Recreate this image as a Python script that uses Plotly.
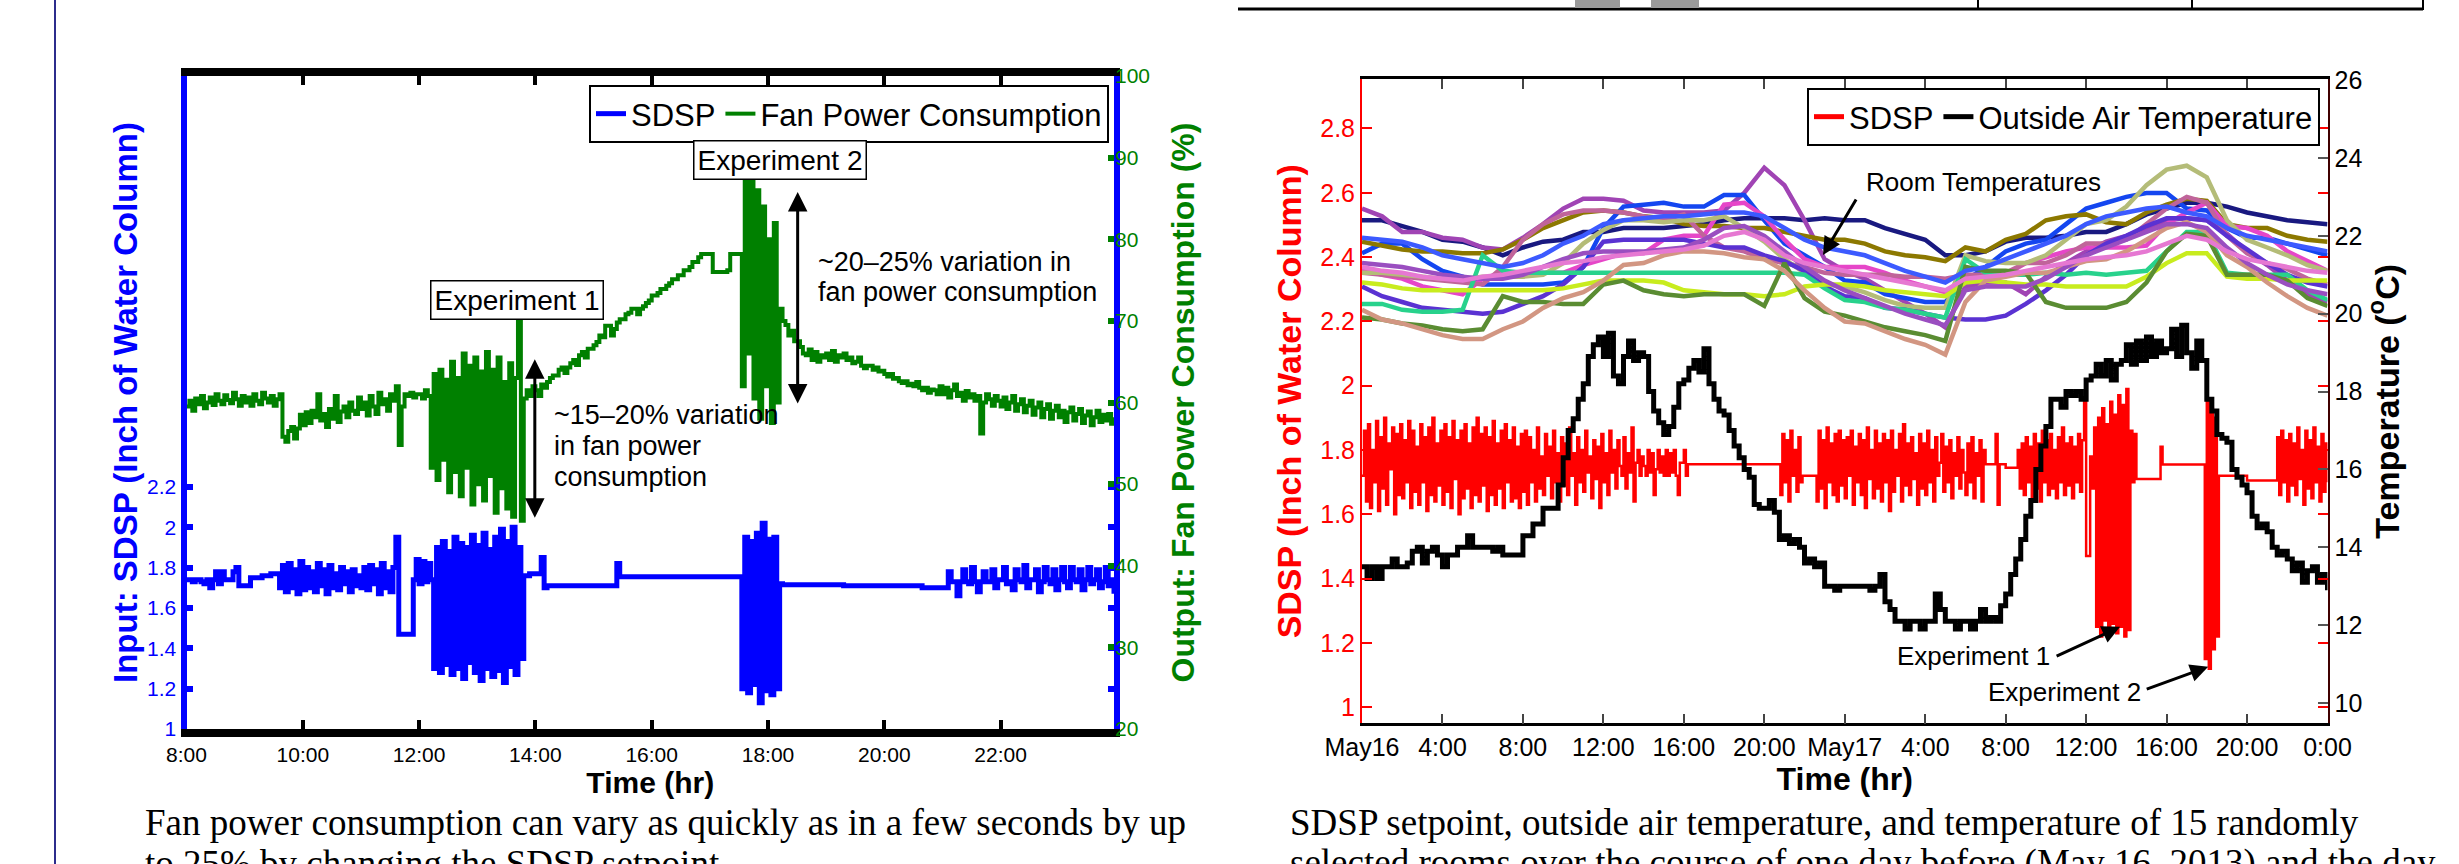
import plotly.graph_objects as go

W, H = 2459, 864

# ---------------- left panel: 8:00 - 24:00, one sample every 3 minutes ----------------
left_start_hour = 8
left_step = 0.05
# blue SDSP setpoint, one row per hour
left_sdsp_rows = [
    "1.74 1.74 1.73 1.74 1.74 1.73 1.72 1.74 1.70 1.74 1.78 1.72 1.78 1.74 1.74 1.74 1.78 1.80 1.71 1.71",
    "1.71 1.71 1.75 1.75 1.75 1.75 1.76 1.76 1.76 1.77 1.77 1.77 1.70 1.81 1.68 1.82 1.70 1.79 1.67 1.83",
    "1.69 1.80 1.70 1.78 1.68 1.82 1.71 1.79 1.67 1.81 1.70 1.77 1.69 1.80 1.72 1.78 1.68 1.79 1.71 1.76",
    "1.70 1.80 1.69 1.81 1.72 1.79 1.67 1.82 1.70 1.78 1.68 1.80 1.95 1.47 1.47 1.47 1.47 1.47 1.74 1.84",
    "1.72 1.83 1.73 1.82 1.74 1.30 1.90 1.28 1.93 1.32 1.88 1.27 1.95 1.30 1.92 1.25 1.90 1.33 1.96 1.28",
    "1.91 1.24 1.97 1.30 1.89 1.26 1.95 1.29 1.99 1.23 1.93 1.31 2.00 1.27 1.90 1.35 1.76 1.76 1.77 1.77",
    "1.77 1.77 1.85 1.70 1.71 1.71 1.71 1.71 1.71 1.71 1.71 1.71 1.71 1.71 1.71 1.71 1.71 1.71 1.71 1.71",
    "1.71 1.71 1.71 1.71 1.71 1.71 1.71 1.71 1.82 1.755 1.755 1.755 1.755 1.755 1.755 1.755 1.755 1.755 1.755 1.755",
    "1.755 1.755 1.755 1.755 1.755 1.755 1.755 1.755 1.755 1.755 1.755 1.755 1.755 1.755 1.755 1.755 1.755 1.755 1.755 1.755",
    "1.755 1.755 1.755 1.755 1.755 1.755 1.755 1.755 1.755 1.755 1.755 1.20 1.95 1.18 1.93 1.22 1.97 1.13 2.02 1.19",
    "1.94 1.17 1.95 1.20 1.72 1.715 1.715 1.715 1.715 1.715 1.715 1.715 1.715 1.715 1.715 1.715 1.715 1.715 1.715 1.715",
    "1.715 1.715 1.715 1.715 1.715 1.715 1.71 1.71 1.71 1.71 1.71 1.71 1.71 1.71 1.71 1.71 1.71 1.71 1.71 1.71",
    "1.71 1.71 1.71 1.71 1.71 1.71 1.71 1.71 1.71 1.71 1.71 1.71 1.71 1.70 1.70 1.70 1.70 1.70 1.70 1.70",
    "1.70 1.70 1.78 1.73 1.73 1.66 1.73 1.79 1.73 1.72 1.80 1.73 1.68 1.73 1.78 1.73 1.73 1.79 1.70 1.74",
    "1.74 1.80 1.72 1.73 1.69 1.79 1.74 1.73 1.81 1.70 1.74 1.74 1.79 1.68 1.73 1.80 1.74 1.72 1.79 1.69",
    "1.74 1.80 1.73 1.70 1.80 1.74 1.73 1.79 1.69 1.74 1.80 1.72 1.74 1.79 1.70 1.73 1.80 1.71 1.74 1.67",
]
# green fan power consumption (%), one row per hour
fan_rows = [
    "59.5 60.2 59.0 60.5 59.8 60.8 59.3 60.0 60.6 59.7 61.0 60.2 59.8 60.9 60.3 59.9 61.2 60.4 59.6 60.8",
    "60.0 60.6 59.6 61.0 60.2 59.8 61.2 60.5 60.0 60.8 59.6 60.4 61.0 55.8 55.2 56.5 57.0 55.6 56.8 58.5",
    "57.2 58.8 57.5 59.0 58.2 61.0 57.8 58.6 57.0 59.2 58.0 60.8 57.6 58.9 59.5 58.2 60.0 59.0 58.6 60.6",
    "59.2 60.0 58.4 60.8 59.5 58.6 61.2 59.8 60.4 59.0 61.0 60.2 62.0 54.8 59.5 61.0 60.8 61.2 60.6 61.0",
    "61.0 60.5 61.5 60.8 52.0 63.5 50.5 64.0 53.0 62.8 49.0 65.0 51.5 63.0 48.5 66.0 52.0 64.5 47.5 65.5",
    "50.0 63.8 48.0 66.2 51.0 64.0 46.5 65.5 49.5 62.5 47.0 64.8 46.0 63.0 70.0 45.5 60.5 61.5 60.8 62.0",
    "61.5 60.8 62.2 61.8 62.5 63.0 63.3 63.3 64.0 64.3 63.6 64.3 64.8 65.2 64.6 65.8 66.2 65.5 66.6 66.6",
    "67.0 67.4 68.2 68.0 69.4 69.4 68.2 69.0 69.8 70.2 70.2 70.8 71.0 71.5 71.5 70.8 71.5 71.8 72.2 72.5",
    "73.1 73.1 73.4 73.9 73.9 74.3 74.6 75.1 75.1 75.6 75.6 76.2 76.2 76.6 77.2 77.2 77.8 78.2 78.2 78.2",
    "78.2 76.0 76.0 76.0 76.0 76.0 76.2 78.2 78.2 78.2 78.2 62.0 88.0 66.0 87.5 60.5 86.0 58.0 84.0 62.0",
    "80.0 57.5 82.0 60.0 71.5 70.0 69.5 68.2 68.8 67.5 67.5 66.8 66.0 65.8 66.5 65.2 66.2 65.0 65.8 65.5",
    "66.0 65.2 66.3 65.0 65.8 65.5 66.0 65.2 65.5 64.8 65.0 65.5 64.5 64.2 64.5 64.5 64.0 64.3 63.8 63.9",
    "63.5 63.2 63.5 62.9 63.0 62.6 62.4 62.6 62.1 62.3 62.0 62.5 61.8 61.5 61.8 61.2 61.6 61.5 61.0 62.0",
    "61.0 61.8 60.6 61.5 62.2 60.8 61.2 60.2 61.4 60.6 61.0 60.2 60.8 56.2 60.0 61.0 60.4 59.6 60.8 60.2",
    "59.5 60.6 59.2 60.0 60.8 59.0 59.8 60.4 58.8 59.6 60.2 58.5 59.4 60.0 58.2 59.2 59.8 58.0 59.0 59.6",
    "58.2 59.0 57.6 58.8 59.4 57.8 58.6 59.2 57.5 58.4 58.9 57.2 58.2 59.0 57.6 58.5 57.8 58.6 57.4 58.2",
]
left_tick_hours = [8, 10, 12, 14, 16, 18, 20, 22]
left_tick_text = ["8:00", "10:00", "12:00", "14:00", "16:00", "18:00", "20:00", "22:00"]
left_sdsp_ticks = [1, 1.2, 1.4, 1.6, 1.8, 2, 2.2]
left_sdsp_labels = ["1", "1.2", "1.4", "1.6", "1.8", "2", "2.2"]
fan_ticks = [20, 30, 40, 50, 60, 70, 80, 90, 100]

# ---------------- right panel: May16 0:00 - May18 0:00 (hours) ----------------
# red SDSP, one sample every 6 minutes, one row per 2 hours
red_step = 0.1
red_rows = [
    "1.72 1.86 1.64 1.88 1.62 1.80 1.70 1.89 1.61 1.84 1.68 1.90 1.63 1.82 1.74 1.87 1.60 1.85 1.66 1.88",
    "1.65 1.83 1.70 1.89 1.62 1.86 1.67 1.81 1.63 1.88 1.70 1.84 1.61 1.87 1.66 1.90 1.64 1.82 1.69 1.86",
    "1.63 1.88 1.67 1.84 1.62 1.89 1.71 1.83 1.60 1.86 1.65 1.88 1.68 1.82 1.62 1.87 1.66 1.90 1.64 1.85",
    "1.69 1.87 1.61 1.84 1.66 1.89 1.63 1.82 1.68 1.86 1.62 1.88 1.70 1.83 1.64 1.87 1.65 1.81 1.62 1.85",
    "1.67 1.86 1.63 1.84 1.70 1.80 1.64 1.87 1.68 1.78 1.66 1.85 1.72 1.81 1.65 1.86 1.70 1.79 1.64 1.84",
    "1.69 1.82 1.66 1.87 1.72 1.79 1.63 1.84 1.70 1.80 1.67 1.86 1.73 1.78 1.65 1.83 1.71 1.81 1.62 1.85",
    "1.70 1.79 1.66 1.86 1.73 1.80 1.68 1.83 1.75 1.72 1.84 1.68 1.79 1.73 1.87 1.64 1.76 1.80 1.72 1.78",
    "1.75 1.72 1.80 1.73 1.79 1.66 1.74 1.80 1.73 1.78 1.72 1.80 1.72 1.79 1.73 1.80 1.72 1.66 1.76 1.76",
    "1.80 1.72 1.756 1.756 1.756 1.756 1.756 1.756 1.756 1.756 1.756 1.756 1.756 1.756 1.756 1.756 1.756 1.756 1.756 1.756",
    "1.756 1.756 1.756 1.756 1.756 1.756 1.756 1.756 1.756 1.756 1.756 1.756 1.756 1.756 1.756 1.756 1.756 1.756 1.756 1.756",
    "1.756 1.756 1.756 1.756 1.756 1.756 1.756 1.756 1.66 1.85 1.70 1.83 1.64 1.86 1.72 1.80 1.67 1.84 1.70 1.72",
    "1.72 1.72 1.72 1.72 1.72 1.72 1.64 1.86 1.68 1.83 1.62 1.87 1.70 1.82 1.66 1.85 1.64 1.86 1.69 1.83",
    "1.65 1.84 1.72 1.86 1.63 1.81 1.70 1.85 1.66 1.83 1.62 1.87 1.71 1.80 1.65 1.86 1.68 1.82 1.64 1.85",
    "1.70 1.83 1.61 1.86 1.67 1.80 1.72 1.85 1.64 1.88 1.69 1.82 1.66 1.84 1.71 1.79 1.63 1.85 1.68 1.82",
    "1.66 1.86 1.70 1.80 1.64 1.84 1.72 1.76 1.85 1.67 1.81 1.70 1.83 1.65 1.79 1.72 1.84 1.68 1.80 1.73",
    "1.66 1.82 1.70 1.84 1.65 1.79 1.72 1.83 1.64 1.80 1.756 1.756 1.756 1.756 1.756 1.85 1.63 1.756 1.756 1.756",
    "1.745 1.745 1.745 1.745 1.745 1.745 1.80 1.68 1.82 1.66 1.84 1.70 1.81 1.65 1.85 1.68 1.82 1.64 1.86 1.70",
    "1.83 1.66 1.85 1.68 1.80 1.65 1.84 1.70 1.87 1.66 1.82 1.69 1.84 1.65 1.81 1.70 1.85 1.67 1.83 1.96",
    "1.47 1.47 1.78 1.68 1.87 1.25 1.90 1.22 1.93 1.27 1.88 1.24 1.95 1.26 1.91 1.23 1.97 1.25 1.94 1.22",
    "1.99 1.24 1.86 1.70 1.85 1.71 1.71 1.71 1.71 1.71 1.71 1.71 1.71 1.71 1.71 1.71 1.71 1.81 1.755 1.755",
    "1.755 1.755 1.755 1.755 1.755 1.755 1.755 1.755 1.755 1.755 1.755 1.755 1.755 1.755 1.755 1.755 1.755 1.755 1.755 1.15",
    "1.95 1.12 1.93 1.18 1.90 1.22 1.72 1.72 1.72 1.72 1.72 1.72 1.72 1.72 1.72 1.72 1.72 1.72 1.72 1.72",
    "1.705 1.705 1.705 1.705 1.705 1.705 1.705 1.705 1.705 1.705 1.705 1.705 1.705 1.705 1.705 1.84 1.66 1.86 1.70 1.83",
    "1.64 1.85 1.69 1.82 1.66 1.87 1.71 1.80 1.63 1.86 1.68 1.83 1.65 1.87 1.70 1.81 1.64 1.85 1.67 1.82 1.70",
]
# outside air temperature (C), one sample every 15 minutes, one row per 2 hours
oat_step = 0.25
oat_rows = [
    "13.5 13.2 13.5 13.2 13.5 13.5 13.7 13.5",
    "13.5 13.6 13.9 14.0 13.6 13.9 14.0 13.8",
    "13.5 13.8 13.8 14.0 14.0 14.3 14.0 14.0",
    "14.0 14.0 13.9 14.0 13.8 13.8 13.8 13.8",
    "14.3 14.3 14.6 14.6 15.0 15.0 15.0 15.6",
    "16.3 17.0 17.3 17.8 18.2 18.9 19.2 19.4",
    "18.9 19.5 18.4 18.2 18.9 19.3 18.8 19.0",
    "18.9 18.0 17.5 17.2 16.9 17.1 17.6 18.2",
    "18.3 18.6 18.8 18.5 19.1 18.2 17.8 17.5",
    "17.4 17.0 16.6 16.3 16.0 15.8 15.1 15.0",
    "15.0 15.2 14.9 14.2 14.3 14.1 14.2 14.0",
    "13.6 13.7 13.5 13.6 13.0 13.0 12.9 13.0",
    "13.0 13.0 13.0 13.0 13.0 12.9 13.0 13.3",
    "12.6 12.4 12.1 12.1 11.9 12.1 12.1 11.9",
    "12.1 12.1 12.8 12.4 12.1 12.1 11.9 12.1",
    "12.1 11.9 12.1 12.4 12.1 12.2 12.1 12.5",
    "12.8 13.3 13.7 14.2 14.8 15.2 16.0 16.6",
    "17.1 17.8 17.8 17.6 18.0 17.9 18.0 17.8",
    "18.3 18.4 18.7 18.4 18.8 18.3 18.7 18.8",
    "19.2 18.7 19.3 18.8 19.4 18.9 19.3 19.0",
    "19.1 19.6 18.9 19.7 19.0 18.6 19.3 18.8",
    "17.8 17.5 16.9 16.8 16.7 16.0 15.8 15.6",
    "15.4 14.8 14.5 14.6 14.4 14.0 13.8 13.9",
    "13.7 13.4 13.6 13.1 13.4 13.5 13.1 13.3 12.9",
]
# 15 room temperatures (C), hourly from May16 0:00 to May18 0:00
room_colors = ["#191980", "#a044b4", "#1446f0", "#8c7800", "#e646c8", "#c0649a", "#b4bc78", "#5a32d2",
               "#28d28c", "#c8ec1e", "#5a8c32", "#d29682", "#9a4ec0", "#3c5aff", "#e678d2"]
room_temps = [
    """22.4 22.4 22.25 22.1 21.9 21.85  21.7 21.5 21.7 21.85 21.9 22.1  22.1 22.2 22.2 22.2 22.25 22.3
       22.4 22.45 22.45 22.45 22.4 22.45  22.4 22.4 22.2 22.05 21.9 21.5  21.5 21.6 21.85 21.95 21.95 22.0
       22.1 22.1 22.3 22.55 22.7 22.85  22.85 22.75 22.6 22.5 22.4 22.35  22.3""",
    """22.7 22.5 22.1 22.1 21.95 21.9  21.7 21.65 21.95 22.3 22.7 22.95  22.95 22.9 22.65 22.6 22.6 22.6
       22.65 23.1 23.75 23.3 22.4 21.4  21.1 20.9 20.6 20.3 20.0 19.65  20.7 20.8 20.8 20.5 20.95 21.3
       21.6 21.85 22.0 22.2 22.4 22.45  22.4 22.05 21.6 21.25 20.85 20.5  20.3""",
    """21.55 21.8 21.8 21.4 21.1 20.95  20.75 20.75 20.75 20.75 20.8 21.2  22.2 22.75 22.8 22.85 22.75 22.75
       23.05 23.05 22.4 21.8 21.5 21.2  20.85 20.8 20.5 20.4 20.3 20.3  20.85 21.2 21.6 21.8 21.9 22.3
       22.7 22.85 23.0 23.1 23.1 22.7  22.65 22.2 21.95 21.95 21.8 21.65  21.5""",
    """21.85 21.75 21.65 21.6 21.6 21.55  21.55 21.65 21.9 22.2 22.4 22.6  22.65 22.6 22.5 22.45 22.3 22.25
       22.25 22.2 22.2 22.1 22.0 21.9  21.9 21.8 21.6 21.5 21.45 21.35  21.7 21.6 21.9 22.05 22.4 22.5
       22.55 22.35 22.3 22.6 22.8 22.95  22.9 22.3 22.2 22.2 22.0 21.9  21.85""",
    """21.15 21.0 20.9 20.7 20.6 20.5  20.9 21.05 21.05 21.05 21.05 21.25  21.4 21.55 21.55 21.9 22.0 22.0
       22.8 22.85 22.5 21.9 21.4 21.2  21.2 21.2 21.05 20.85 20.7 20.55  20.9 20.85 21.0 21.3 21.45 21.6
       21.7 21.7 21.7 21.75 22.3 22.6  22.85 22.25 22.2 22.0 21.6 21.35  21.1""",
    """21.05 21.0 20.95 20.9 20.85 20.8  20.75 21.2 21.9 22.3 22.55 22.65  22.65 22.6 22.5 22.4 22.55 22.0
       21.7 21.6 21.4 21.3 21.2 21.05  21.0 21.0 21.0 20.95 20.95 20.9  21.0 21.0 21.05 21.3 21.3 21.5
       21.8 21.8 21.9 22.3 22.7 23.0  22.85 22.0 21.55 21.3 21.15 20.9  20.75""",
    """21.05 21.05 21.0 20.95 20.9 20.9  20.95 20.95 20.95 21.0 21.3 21.8  22.15 22.4 22.4 22.35 22.4 22.4
       22.5 22.2 21.85 21.4 21.05 20.75  20.7 20.55 20.35 20.2 20.15 20.15  21.5 21.35 21.3 21.3 21.5 21.9
       22.3 22.4 22.75 23.3 23.7 23.8  23.5 22.4 21.9 21.7 21.5 21.25  21.1""",
    """20.7 20.45 20.3 20.15 20.1 20.05  20.0 20.05 20.25 20.45 20.75 21.2  21.85 21.9 21.9 21.9 21.9 21.8
       21.7 21.7 21.5 21.35 21.1 20.7  20.45 20.4 20.15 20.1 20.0 19.9  19.85 19.85 19.95 20.25 20.6 21.0
       21.5 21.8 22.0 22.25 22.45 22.45  22.4 22.0 21.65 21.3 21.0 20.8  20.7""",
    """20.25 20.25 20.1 20.05 20.05 20.1  21.5 21.1 21.05 21.05 21.05 21.05  21.05 21.05 21.05 21.05 21.05 21.05
       21.05 21.05 21.05 21.05 21.0 20.65  20.35 20.3 20.15 20.1 20.0 19.9  21.4 21.05 21.0 21.0 21.05 21.0
       21.05 21.0 21.05 21.1 21.6 22.1  22.1 21.05 21.0 21.0 21.0 20.6  20.35""",
    """20.8 20.75 20.65 20.6 20.6 20.6  20.6 20.6 20.6 20.6 20.65 20.75  20.85 20.85 20.85 20.8 20.6 20.55
       20.5 20.5 20.45 20.5 20.7 20.75  20.75 20.7 20.6 20.55 20.5 20.45  20.8 20.85 20.8 20.75 20.75 20.7
       20.7 20.7 20.7 20.95 21.3 21.55  21.55 20.95 20.9 20.9 20.85 20.85  20.85""",
    """19.9 19.85 19.75 19.7 19.6 19.55  19.6 20.45 20.3 20.3 20.25 20.25  20.75 20.85 20.6 20.5 20.45 20.5
       20.5 20.5 20.2 21.3 20.4 20.05  19.95 19.8 19.65 19.55 19.45 19.3  21.2 21.1 21.1 21.05 20.3 20.15
       20.15 20.15 20.3 20.8 21.6 22.05  22.0 21.0 21.0 21.0 20.85 20.4  20.2""",
    """20.1 19.85 19.75 19.6 19.45 19.35  19.35 19.6 19.8 20.15 20.4 20.55  20.85 21.25 21.3 21.5 21.6 21.6
       21.55 21.45 21.4 21.1 20.6 20.15  19.8 19.75 19.55 19.35 19.2 18.95  20.3 20.85 20.95 21.05 21.05 21.2
       21.35 21.4 21.6 21.9 22.2 22.35  22.1 21.5 21.2 20.8 20.45 20.15  19.95""",
    """21.3 21.25 21.2 21.1 21.0 20.95  20.9 20.9 21.0 21.2 21.4 21.55  21.6 21.6 21.6 21.65 21.7 21.9
       22.2 22.25 22.0 21.6 21.2 20.85  20.6 20.4 20.2 20.0 19.85 19.7  20.6 20.7 20.7 20.7 20.9 21.2
       21.5 21.7 21.9 22.1 22.3 22.3  22.2 21.7 21.3 21.0 20.75 20.6  20.5""",
    """21.95 21.9 21.85 21.7 21.5 21.4  21.3 21.2 21.3 21.5 21.8 22.0  22.3 22.4 22.45 22.5 22.5 22.55
       22.6 22.6 22.5 22.2 21.9 21.7  21.6 21.5 21.3 21.1 20.95 20.8  21.1 21.2 21.4 21.6 21.8 22.0
       22.3 22.5 22.6 22.7 22.75 22.6  22.5 22.2 22.0 21.9 21.8 21.7  21.6""",
    """21.2 21.1 21.05 20.95 20.9 20.85  20.95 21.0 21.1 21.2 21.3 21.35  21.45 21.5 21.55 21.6 21.65 21.75
       22.0 22.1 21.9 21.5 21.3 21.2  21.1 21.0 20.9 20.8 20.7 20.6  20.9 20.95 21.0 21.1 21.2 21.3
       21.4 21.45 21.5 21.6 21.8 22.0  21.9 21.6 21.4 21.3 21.2 21.1  21.05""",
]
right_tick_hours = [0, 4, 8, 12, 16, 20, 24, 28, 32, 36, 40, 44, 48]
right_tick_text = ["May16", "4:00", "8:00", "12:00", "16:00", "20:00", "May17",
                   "4:00", "8:00", "12:00", "16:00", "20:00", "0:00"]
red_ticks = [1, 1.2, 1.4, 1.6, 1.8, 2, 2.2, 2.4, 2.6, 2.8]
red_labels = ["1", "1.2", "1.4", "1.6", "1.8", "2", "2.2", "2.4", "2.6", "2.8"]
temp_ticks = [10, 12, 14, 16, 18, 20, 22, 24, 26]


def rows_to_xy(rows, start, row_span, step):
    xs, ys = [], []
    for j, row in enumerate(rows):
        for k, v in enumerate(row.split()):
            xs.append(start + j * row_span + k * step)
            ys.append(float(v))
    return xs, ys


def px(x):
    return x / W


def py(y):
    return 1 - y / H


FONT = "Liberation Sans"
SERIF = "Liberation Serif"
BLUE, GREEN, RED = "#0000ff", "#008000", "#ff0000"

fig = go.Figure()

t, v = rows_to_xy(left_sdsp_rows, left_start_hour, 1, left_step)
fig.add_trace(go.Scatter(x=t, y=v, mode="lines", name="SDSP", xaxis="x", yaxis="y",
                         line=dict(color=BLUE, width=5, shape="hv"), legend="legend"))
t, v = rows_to_xy(fan_rows, left_start_hour, 1, left_step)
fig.add_trace(go.Scatter(x=t, y=v, mode="lines", name="Fan Power Consumption", xaxis="x", yaxis="y2",
                         line=dict(color=GREEN, width=4, shape="hv"), legend="legend"))

t, v = rows_to_xy(red_rows, 0, 2, red_step)
fig.add_trace(go.Scatter(x=t, y=v, mode="lines", xaxis="x2", yaxis="y3", showlegend=False,
                         line=dict(color=RED, width=2.5, shape="hv")))
# legend entry for the red line (drawn thicker in the legend, as in the original)
fig.add_trace(go.Scatter(x=[None], y=[None], mode="lines", name="SDSP", xaxis="x2", yaxis="y3",
                         line=dict(color=RED, width=5), legend="legend2"))

hours = list(range(49))
for color, vals in zip(room_colors, room_temps):
    fig.add_trace(go.Scatter(x=hours, y=[float(s) for s in vals.split()], mode="lines",
                             xaxis="x2", yaxis="y4", showlegend=False,
                             line=dict(color=color, width=4.5)))

t, v = rows_to_xy(oat_rows, 0, 2, oat_step)
fig.add_trace(go.Scatter(x=t, y=v, mode="lines", name="Outside Air Temperature", xaxis="x2", yaxis="y4",
                         line=dict(color="black", width=5, shape="hv"), legend="legend2"))

legend_style = dict(orientation="h", xanchor="right", yanchor="top", font=dict(family=FONT, size=31),
                    bordercolor="black", borderwidth=2, bgcolor="white", itemwidth=30)

fig.update_layout(
    width=W, height=H, margin=dict(l=0, r=0, t=0, b=0),
    paper_bgcolor="white", plot_bgcolor="white",
    font=dict(family=FONT, color="black"),
    showlegend=True,
    legend=dict(legend_style, x=px(1109), y=py(85)),
    legend2=dict(legend_style, x=px(2320), y=py(88)),
    xaxis=dict(domain=[px(186.5), px(1114)], range=[8, 23.95], anchor="y",
               tickvals=left_tick_hours, ticktext=left_tick_text, ticks="inside", ticklen=9, tickwidth=4,
               tickcolor="black", showline=True, linewidth=8, linecolor="black", mirror="ticks",
               showgrid=False, zeroline=False, automargin=False, tickfont=dict(size=21),
               title=dict(text="<b>Time (hr)</b>", font=dict(size=30), standoff=2)),
    yaxis=dict(domain=[py(729), py(76)], range=[1, 4.237], anchor="x",
               tickvals=left_sdsp_ticks, ticktext=left_sdsp_labels, ticks="inside", ticklen=6, tickwidth=6,
               tickcolor=BLUE, showline=True, linewidth=6, linecolor=BLUE, mirror="ticks",
               showgrid=False, zeroline=False, automargin=False, tickfont=dict(size=21, color=BLUE),
               title=dict(text="<b>Input: SDSP (Inch of Water Column)</b>", font=dict(size=33, color=BLUE),
                          standoff=2)),
    yaxis2=dict(overlaying="y", side="right", anchor="x", range=[20, 100], tickvals=fan_ticks,
                ticks="inside", ticklen=6, tickwidth=6, tickcolor=GREEN, showline=False,
                showgrid=False, zeroline=False, automargin=False, tickfont=dict(size=21, color=GREEN),
                title=dict(text="<b>Output: Fan Power Consumption (%)</b>", font=dict(size=32, color=GREEN),
                           standoff=22)),
    xaxis2=dict(domain=[px(1362), px(2327.5)], range=[0, 48], anchor="y3",
                tickvals=right_tick_hours, ticktext=right_tick_text, ticks="inside", ticklen=10, tickwidth=1.5,
                tickcolor="#444444", showline=True, linewidth=2.5, linecolor="black", mirror="ticks",
                showgrid=False, zeroline=False, automargin=False, tickfont=dict(size=25),
                title=dict(text="<b>Time (hr)</b>", font=dict(size=32), standoff=2)),
    yaxis3=dict(domain=[py(723.3), py(79.3)], range=[0.95, 2.953], anchor="x2",
                tickvals=red_ticks, ticktext=red_labels, ticks="inside", ticklen=10, tickwidth=1.5,
                tickcolor=RED, showline=True, linewidth=2, linecolor=RED, mirror="ticks",
                showgrid=False, zeroline=False, automargin=False, tickfont=dict(size=25, color=RED),
                title=dict(text="<b>SDSP (Inch of Water Column)</b>", font=dict(size=34, color=RED),
                           standoff=8)),
    yaxis4=dict(overlaying="y3", side="right", anchor="x2", range=[9.48, 26.02], tickvals=temp_ticks,
                ticks="inside", ticklen=10, tickwidth=1.5, tickcolor="#555555", showline=True,
                linewidth=2, linecolor="#400000", showgrid=False, zeroline=False, automargin=False,
                tickfont=dict(size=25),
                title=dict(text="<b>Temperature (<sup>o</sup>C)</b>", font=dict(size=34), standoff=6)),
)

ann = []
centre = dict(xanchor="center", yanchor="middle")
box = dict(centre, showarrow=False, font=dict(size=28), bordercolor="black", borderwidth=1.5, borderpad=3,
           bgcolor="white", xref="paper", yref="paper")
ann.append(dict(box, x=px(780), y=py(160), text="Experiment 2"))
ann.append(dict(box, x=px(517), y=py(300), text="Experiment 1"))
note = dict(showarrow=False, font=dict(size=27), xref="paper", yref="paper", xanchor="left", yanchor="middle")
ann.append(dict(note, x=px(816), y=py(262), text="~20–25% variation in"))
ann.append(dict(note, x=px(816), y=py(292), text="fan power consumption"))
ann.append(dict(note, x=px(552), y=py(415), text="~15–20% variation"))
ann.append(dict(note, x=px(552), y=py(446), text="in fan power"))
ann.append(dict(note, x=px(552), y=py(477), text="consumption"))
dbl = dict(text="", showarrow=True, arrowhead=2, arrowside="end+start", arrowsize=1.3, arrowwidth=3,
           arrowcolor="black", xref="x", yref="y2", axref="x", ayref="y2")
ann.append(dict(dbl, x=18.51, y=85.8, ax=18.51, ay=59.7))
ann.append(dict(dbl, x=13.99, y=65.3, ax=13.99, ay=45.7))

label = dict(centre, showarrow=False, font=dict(size=26), xref="paper", yref="paper")
ann.append(dict(label, x=px(1983), y=py(182), text="Room Temperatures"))
ann.append(dict(label, x=px(1973), y=py(656), text="Experiment 1"))
ann.append(dict(label, x=px(2064), y=py(692), text="Experiment 2"))
arrow = dict(text="", showarrow=True, arrowhead=2, arrowsize=1.2, arrowwidth=3, arrowcolor="black")
ann.append(dict(arrow, x=px(1823), y=py(255), xref="paper", yref="paper", ax=34, ay=-57))
ann.append(dict(arrow, x=37.69, y=1.25, xref="x2", yref="y3", ax=-65, ay=30))
ann.append(dict(arrow, x=42.07, y=1.126, xref="x2", yref="y3", ax=-63, ay=23))

cap = dict(showarrow=False, font=dict(family=SERIF, size=37), xref="paper", yref="paper",
           xanchor="left", yanchor="middle")
ann.append(dict(cap, x=px(143), y=py(822), text="Fan power consumption can vary as quickly as in a few seconds by up"))
ann.append(dict(cap, x=px(143), y=py(863), text="to 25% by changing the SDSP setpoint."))
ann.append(dict(cap, x=px(1288), y=py(822),
                text="SDSP setpoint, outside air temperature, and temperature of 15 randomly"))
ann.append(dict(cap, x=px(1288), y=py(863),
                text="selected rooms over the course of one day before (May 16, 2013) and the day"))
fig.update_layout(annotations=ann)

shapes = [
    dict(type="line", xref="paper", yref="paper", x0=px(55), x1=px(55), y0=0, y1=1,
         line=dict(color="#2c2c8c", width=2)),
    dict(type="line", xref="paper", yref="paper", x0=px(1238), x1=px(2423), y0=py(9), y1=py(9),
         line=dict(color="black", width=3)),
]
for xv in [1978, 2192, 2423]:
    shapes.append(dict(type="line", xref="paper", yref="paper", x0=px(xv), x1=px(xv), y0=py(0), y1=py(10),
                       line=dict(color="black", width=2)))
for a, b in [(1575, 1620), (1651, 1699)]:
    shapes.append(dict(type="rect", xref="paper", yref="paper", x0=px(a), x1=px(b), y0=py(8), y1=py(0),
                       fillcolor="#9a9a9a", line=dict(width=0)))
fig.update_layout(shapes=shapes)

fig.write_html("out.html", config={"displayModeBar": False},
               post_script="document.body.style.margin='0';")
